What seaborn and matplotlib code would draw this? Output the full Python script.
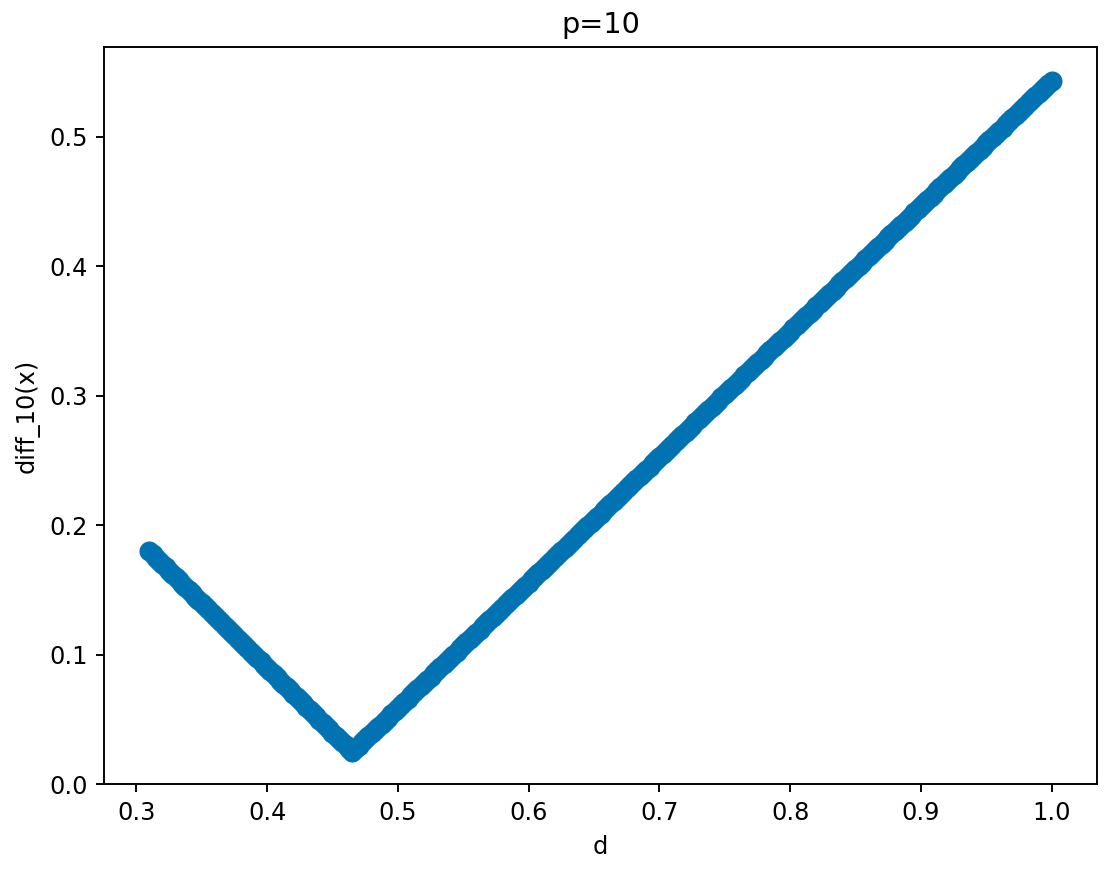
import matplotlib
matplotlib.use("Agg")
import matplotlib.pyplot as plt
import seaborn as sns
import pandas as pd

d_left = [0.3100, 0.3125, 0.3150, 0.3175, 0.3200, 0.3225, 0.3250, 0.3275,
          0.3300, 0.3325, 0.3350, 0.3375, 0.3400, 0.3425, 0.3450, 0.3475,
          0.3500, 0.3525, 0.3550, 0.3575, 0.3600, 0.3625, 0.3650, 0.3675,
          0.3700, 0.3725, 0.3750, 0.3775, 0.3800, 0.3825, 0.3850, 0.3875,
          0.3900, 0.3925, 0.3950, 0.3975, 0.4000, 0.4025, 0.4050, 0.4075,
          0.4100, 0.4125, 0.4150, 0.4175, 0.4200, 0.4225, 0.4250, 0.4275,
          0.4300, 0.4325, 0.4350, 0.4375, 0.4400, 0.4425, 0.4450, 0.4475,
          0.4500, 0.4525, 0.4550, 0.4575, 0.4600, 0.4625, 0.4650]
diff_left = [0.1800, 0.1775, 0.1750, 0.1725, 0.1700, 0.1675, 0.1650, 0.1625,
             0.1600, 0.1575, 0.1550, 0.1525, 0.1500, 0.1475, 0.1450, 0.1425,
             0.1400, 0.1375, 0.1350, 0.1325, 0.1300, 0.1275, 0.1250, 0.1225,
             0.1200, 0.1175, 0.1150, 0.1125, 0.1100, 0.1075, 0.1050, 0.1025,
             0.1000, 0.0975, 0.0950, 0.0925, 0.0900, 0.0875, 0.0850, 0.0825,
             0.0800, 0.0775, 0.0750, 0.0725, 0.0700, 0.0675, 0.0650, 0.0625,
             0.0600, 0.0575, 0.0550, 0.0525, 0.0500, 0.0475, 0.0450, 0.0425,
             0.0400, 0.0375, 0.0350, 0.0325, 0.0300, 0.0275, 0.0250]

d_right = [0.4675, 0.4700, 0.4725, 0.4750, 0.4775, 0.4800, 0.4825, 0.4850,
           0.4875, 0.4900, 0.4925, 0.4950, 0.4975, 0.5000, 0.5025, 0.5050,
           0.5075, 0.5100, 0.5125, 0.5150, 0.5175, 0.5200, 0.5225, 0.5250,
           0.5275, 0.5300, 0.5325, 0.5350, 0.5375, 0.5400, 0.5425, 0.5450,
           0.5475, 0.5500, 0.5525, 0.5550, 0.5575, 0.5600, 0.5625, 0.5650,
           0.5675, 0.5700, 0.5725, 0.5750, 0.5775, 0.5800, 0.5825, 0.5850,
           0.5875, 0.5900, 0.5925, 0.5950, 0.5975, 0.6000, 0.6025, 0.6050,
           0.6075, 0.6100, 0.6125, 0.6150, 0.6175, 0.6200, 0.6225, 0.6250,
           0.6275, 0.6300, 0.6325, 0.6350, 0.6375, 0.6400, 0.6425, 0.6450,
           0.6475, 0.6500, 0.6525, 0.6550, 0.6575, 0.6600, 0.6625, 0.6650,
           0.6675, 0.6700, 0.6725, 0.6750, 0.6775, 0.6800, 0.6825, 0.6850,
           0.6875, 0.6900, 0.6925, 0.6950, 0.6975, 0.7000, 0.7025, 0.7050,
           0.7075, 0.7100, 0.7125, 0.7150, 0.7175, 0.7200, 0.7225, 0.7250,
           0.7275, 0.7300, 0.7325, 0.7350, 0.7375, 0.7400, 0.7425, 0.7450,
           0.7475, 0.7500, 0.7525, 0.7550, 0.7575, 0.7600, 0.7625, 0.7650,
           0.7675, 0.7700, 0.7725, 0.7750, 0.7775, 0.7800, 0.7825, 0.7850,
           0.7875, 0.7900, 0.7925, 0.7950, 0.7975, 0.8000, 0.8025, 0.8050,
           0.8075, 0.8100, 0.8125, 0.8150, 0.8175, 0.8200, 0.8225, 0.8250,
           0.8275, 0.8300, 0.8325, 0.8350, 0.8375, 0.8400, 0.8425, 0.8450,
           0.8475, 0.8500, 0.8525, 0.8550, 0.8575, 0.8600, 0.8625, 0.8650,
           0.8675, 0.8700, 0.8725, 0.8750, 0.8775, 0.8800, 0.8825, 0.8850,
           0.8875, 0.8900, 0.8925, 0.8950, 0.8975, 0.9000, 0.9025, 0.9050,
           0.9075, 0.9100, 0.9125, 0.9150, 0.9175, 0.9200, 0.9225, 0.9250,
           0.9275, 0.9300, 0.9325, 0.9350, 0.9375, 0.9400, 0.9425, 0.9450,
           0.9475, 0.9500, 0.9525, 0.9550, 0.9575, 0.9600, 0.9625, 0.9650,
           0.9675, 0.9700, 0.9725, 0.9750, 0.9775, 0.9800, 0.9825, 0.9850,
           0.9875, 0.9900, 0.9925, 0.9950, 0.9975, 1.0000]
diff_right = [0.0274, 0.0298, 0.0323, 0.0347, 0.0371, 0.0395, 0.0420, 0.0444,
              0.0468, 0.0492, 0.0516, 0.0541, 0.0565, 0.0589, 0.0613, 0.0638,
              0.0662, 0.0686, 0.0710, 0.0735, 0.0759, 0.0783, 0.0807, 0.0831,
              0.0856, 0.0880, 0.0904, 0.0928, 0.0953, 0.0977, 0.1001, 0.1025,
              0.1049, 0.1074, 0.1098, 0.1122, 0.1146, 0.1171, 0.1195, 0.1219,
              0.1243, 0.1267, 0.1292, 0.1316, 0.1340, 0.1364, 0.1389, 0.1413,
              0.1437, 0.1461, 0.1485, 0.1510, 0.1534, 0.1558, 0.1582, 0.1607,
              0.1631, 0.1655, 0.1679, 0.1704, 0.1728, 0.1752, 0.1776, 0.1800,
              0.1825, 0.1849, 0.1873, 0.1897, 0.1922, 0.1946, 0.1970, 0.1994,
              0.2018, 0.2043, 0.2067, 0.2091, 0.2115, 0.2140, 0.2164, 0.2188,
              0.2212, 0.2236, 0.2261, 0.2285, 0.2309, 0.2333, 0.2358, 0.2382,
              0.2406, 0.2430, 0.2454, 0.2479, 0.2503, 0.2527, 0.2551, 0.2576,
              0.2600, 0.2624, 0.2648, 0.2673, 0.2697, 0.2721, 0.2745, 0.2769,
              0.2794, 0.2818, 0.2842, 0.2866, 0.2891, 0.2915, 0.2939, 0.2963,
              0.2987, 0.3012, 0.3036, 0.3060, 0.3084, 0.3109, 0.3133, 0.3157,
              0.3181, 0.3205, 0.3230, 0.3254, 0.3278, 0.3302, 0.3327, 0.3351,
              0.3375, 0.3399, 0.3423, 0.3448, 0.3472, 0.3496, 0.3520, 0.3545,
              0.3569, 0.3593, 0.3617, 0.3641, 0.3666, 0.3690, 0.3714, 0.3738,
              0.3763, 0.3787, 0.3811, 0.3835, 0.3860, 0.3884, 0.3908, 0.3932,
              0.3956, 0.3981, 0.4005, 0.4029, 0.4053, 0.4078, 0.4102, 0.4126,
              0.4150, 0.4174, 0.4199, 0.4223, 0.4247, 0.4271, 0.4296, 0.4320,
              0.4344, 0.4368, 0.4392, 0.4417, 0.4441, 0.4465, 0.4489, 0.4514,
              0.4538, 0.4562, 0.4586, 0.4610, 0.4635, 0.4659, 0.4683, 0.4707,
              0.4732, 0.4756, 0.4780, 0.4804, 0.4829, 0.4853, 0.4877, 0.4901,
              0.4925, 0.4950, 0.4974, 0.4998, 0.5022, 0.5047, 0.5071, 0.5095,
              0.5119, 0.5143, 0.5168, 0.5192, 0.5216, 0.5240, 0.5265, 0.5289,
              0.5313, 0.5337, 0.5361, 0.5386, 0.5410, 0.5434]

df = pd.DataFrame({"d": d_left + d_right, "diff": diff_left + diff_right})

dpi = 172.66
fig = plt.figure(figsize=(1105 / dpi, 874 / dpi), dpi=dpi)
ax = fig.add_axes([0.0944, 0.1026, 0.8981, 0.8436])

sns.scatterplot(data=df, x="d", y="diff", ax=ax, color="#0173B2", s=70, linewidth=0)
ax.set_ylim(bottom=0)
ax.set_xlabel("d")
ax.set_ylabel("diff_10(x)")
ax.set_title("p=10")

fig.savefig("out.png", dpi=dpi)
